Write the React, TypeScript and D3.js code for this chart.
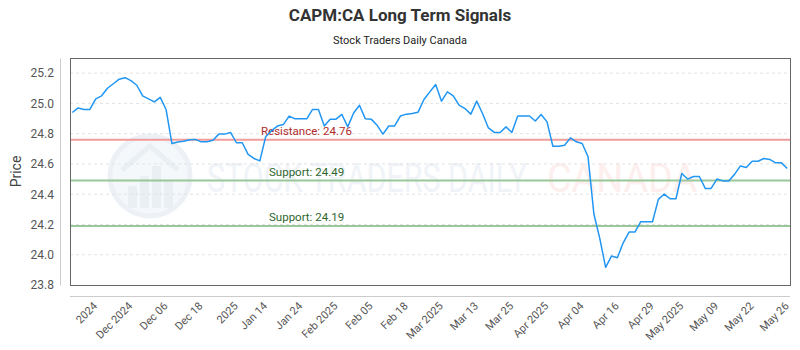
import React, { useEffect, useRef } from 'react';
import * as d3 from 'd3';

// closing prices, one per trading day
const prices = [
  24.94, 24.97, 24.96, 24.96, 25.03, 25.05, 25.10, 25.13, 25.16, 25.17,
  25.15, 25.12, 25.05, 25.03, 25.01, 25.04, 24.96, 24.735, 24.745, 24.75,
  24.76, 24.762, 24.746, 24.746, 24.757, 24.797, 24.797, 24.808, 24.74, 24.74,
  24.663, 24.636, 24.62, 24.78, 24.82, 24.85, 24.86, 24.916, 24.898, 24.898,
  24.898, 24.96, 24.96, 24.851, 24.896, 24.896, 24.927, 24.845, 24.937, 24.988,
  24.898, 24.896, 24.856, 24.797, 24.851, 24.851, 24.917, 24.929, 24.933, 24.942,
  25.026, 25.076, 25.125, 25.015, 25.076, 25.05, 24.988, 24.966, 24.929, 25.015,
  24.933, 24.838, 24.808, 24.808, 24.845, 24.808, 24.917, 24.917, 24.917, 24.884,
  24.927, 24.878, 24.717, 24.717, 24.724, 24.772, 24.746, 24.735, 24.647, 24.269,
  24.108, 23.917, 23.991, 23.98, 24.079, 24.15, 24.15, 24.218, 24.218, 24.218,
  24.366, 24.401, 24.37, 24.37, 24.537, 24.5, 24.517, 24.517, 24.438, 24.438,
  24.5, 24.488, 24.488, 24.531, 24.587, 24.577, 24.618, 24.618, 24.636, 24.63,
  24.607, 24.607, 24.57,
];

const tickIndex = [4, 10, 16, 22, 28, 33, 39, 45, 51, 57, 63, 69, 75, 81, 87, 93, 99, 104, 110, 116, 122];
const tickLabels = [
  '2024', 'Dec 2024', 'Dec 06', 'Dec 18', '2025', 'Jan 14', 'Jan 24', 'Feb 2025',
  'Feb 05', 'Feb 18', 'Mar 2025', 'Mar 13', 'Mar 25', 'Apr 2025', 'Apr 04',
  'Apr 16', 'Apr 29', 'May 2025', 'May 09', 'May 22', 'May 26',
];

const yTicks = [23.8, 24.0, 24.2, 24.4, 24.6, 24.8, 25.0, 25.2];

const levelNames = ['Resistance', 'Support', 'Support'];
const levelValues = [24.76, 24.49, 24.19];

const FONT = 'Roboto, "Noto Sans", sans-serif';

const App = () => {
  const svgRef = useRef<SVGSVGElement>(null);

  useEffect(() => {
    const svg = d3.select(svgRef.current);
    svg.selectAll('*').remove();

    const W = 800;
    const margin = { top: 58, right: 10, bottom: 65, left: 70 };
    const plotW = W - margin.left - margin.right;
    const plotH = 350 - margin.top - margin.bottom;

    const x = d3.scaleLinear()
      .domain([0, prices.length - 1])
      .range([2.3, plotW - 2.7]);

    const y = d3.scaleLinear()
      .domain([23.8, 25.3])
      .range([plotH, 0]);

    // titles
    svg.append('text')
      .attr('x', W / 2)
      .attr('y', 21)
      .attr('text-anchor', 'middle')
      .style('font-family', FONT)
      .style('font-size', '17px')
      .style('font-weight', 'bold')
      .style('fill', '#333')
      .text('CAPM:CA Long Term Signals');

    svg.append('text')
      .attr('x', W / 2)
      .attr('y', 44)
      .attr('text-anchor', 'middle')
      .style('font-family', FONT)
      .style('font-size', '11px')
      .style('fill', '#222')
      .text('Stock Traders Daily Canada');

    const g = svg.append('g')
      .attr('transform', `translate(${margin.left},${margin.top})`);

    // watermark
    const wm = g.append('g').attr('opacity', 0.5);
    wm.append('circle')
      .attr('cx', 80)
      .attr('cy', 118)
      .attr('r', 40)
      .attr('fill', '#edf2f8')
      .attr('stroke', '#dce5ef')
      .attr('stroke-width', 5);
    [[58, 128, 22], [70, 118, 32], [82, 108, 42], [94, 122, 28]].forEach(([bx, by, bh]) => {
      wm.append('rect')
        .attr('x', bx)
        .attr('y', by)
        .attr('width', 9)
        .attr('height', bh)
        .attr('fill', '#d6e0eb');
    });
    wm.append('path')
      .attr('d', 'M52,112 L80,88 L108,112')
      .attr('fill', 'none')
      .attr('stroke', '#d6e0eb')
      .attr('stroke-width', 5);
    wm.append('text')
      .attr('x', 137)
      .attr('y', 134)
      .attr('textLength', 320)
      .attr('lengthAdjust', 'spacingAndGlyphs')
      .style('font-family', FONT)
      .style('font-size', '40px')
      .style('fill', '#e2e9f2')
      .text('STOCK TRADERS DAILY');
    wm.append('text')
      .attr('x', 477)
      .attr('y', 134)
      .attr('textLength', 150)
      .attr('lengthAdjust', 'spacingAndGlyphs')
      .style('font-family', FONT)
      .style('font-size', '40px')
      .style('fill', '#fde0dc')
      .text('CANADA');

    // grid
    g.append('g')
      .selectAll('line')
      .data(yTicks.filter(t => t > 23.8))
      .enter()
      .append('line')
      .attr('x1', 0)
      .attr('x2', plotW)
      .attr('y1', d => y(d))
      .attr('y2', d => y(d))
      .attr('stroke', '#e2e2e2')
      .attr('stroke-dasharray', '3,3');

    // support / resistance levels
    levelValues.forEach((v, i) => {
      const isRes = levelNames[i] === 'Resistance';
      g.append('line')
        .attr('x1', 0)
        .attr('x2', plotW)
        .attr('y1', y(v))
        .attr('y2', y(v))
        .attr('stroke', isRes ? '#f29b9b' : '#99c799')
        .attr('stroke-width', 2);
      g.append('text')
        .attr('x', isRes ? 191 : 199)
        .attr('y', y(v) - 5)
        .style('font-family', FONT)
        .style('font-size', '11.5px')
        .style('fill', isRes ? '#b02a2a' : '#2e662e')
        .text(`${levelNames[i]}: ${v.toFixed(2)}`);
    });

    // price line
    const line = d3.line<number>()
      .x((d, i) => x(i))
      .y(d => y(d));

    g.append('path')
      .datum(prices)
      .attr('fill', 'none')
      .attr('stroke', '#2196f3')
      .attr('stroke-width', 1.5)
      .attr('stroke-linejoin', 'round')
      .attr('d', line);

    // plot frame
    g.append('rect')
      .attr('x', 0.5)
      .attr('y', 0.5)
      .attr('width', plotW)
      .attr('height', plotH)
      .attr('fill', 'none')
      .attr('stroke', '#666')
      .attr('stroke-width', 1);

    // y axis (offset)
    const yAxis = g.append('g')
      .attr('transform', 'translate(-10,0)')
      .call(d3.axisLeft(y).tickValues(yTicks).tickSize(0).tickPadding(6).tickFormat(d3.format('.1f')));
    yAxis.select('.domain').attr('stroke', '#ccc');
    yAxis.selectAll('text')
      .style('font-family', FONT)
      .style('font-size', '12px')
      .style('fill', '#555');

    // x axis (offset)
    const xAxis = g.append('g')
      .attr('transform', `translate(0,${plotH + 11})`)
      .call(d3.axisBottom(x)
        .tickValues(tickIndex)
        .tickSize(0)
        .tickFormat((d, i) => tickLabels[i]));
    xAxis.select('.domain').attr('stroke', '#ccc').attr('d', `M0,0.5H${plotW}`);
    xAxis.selectAll('text')
      .attr('x', 0)
      .attr('y', 0)
      .attr('dy', '0.35em')
      .attr('text-anchor', 'end')
      .attr('transform', 'translate(-1,8) rotate(-45)')
      .style('font-family', FONT)
      .style('font-size', '11px')
      .style('fill', '#555');

    // y label
    svg.append('text')
      .attr('transform', `translate(21,${margin.top + plotH / 2}) rotate(-90)`)
      .attr('text-anchor', 'middle')
      .style('font-family', FONT)
      .style('font-size', '14px')
      .style('fill', '#444')
      .text('Price');
  }, []);

  return (
    <svg
      ref={svgRef}
      width={800}
      height={350}
      style={{ position: 'absolute', left: 0, top: 0, background: '#fff' }}
    />
  );
};

export default App;
